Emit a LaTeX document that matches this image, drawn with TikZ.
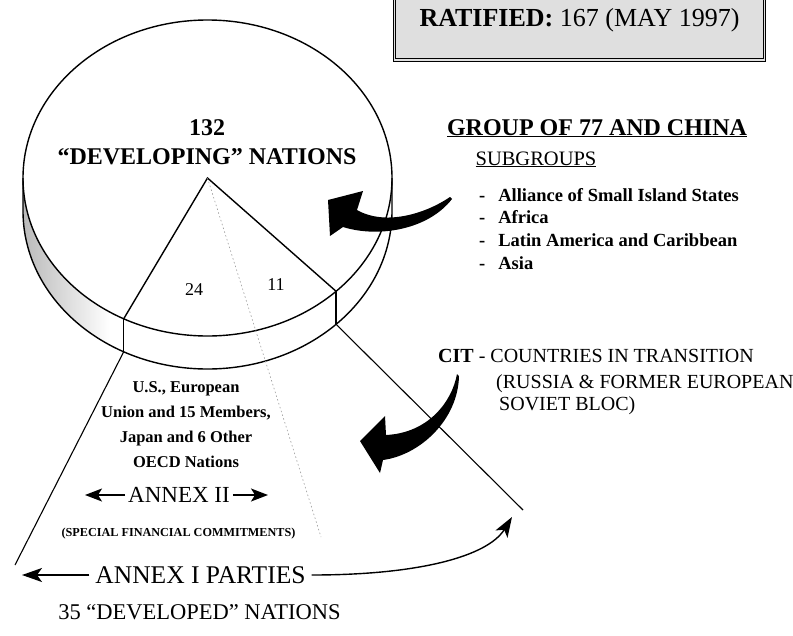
\documentclass[tikz,border=0pt]{standalone}
\usepackage{fontspec}
\setmainfont{Liberation Serif}
\usetikzlibrary{arrows.meta}

\def\gr#1#2{\fontsize{#1}{#2}\selectfont}

\tikzset{
	txt/.style={inner sep=0pt},
	pie/.style={line width=1.4pt},
	cone/.style={line width=1.1pt},
	kurz/.style={line width=1.4pt,-{Stealth[length=17pt,width=13pt,inset=4pt]}},
	lang/.style={line width=1.4pt,-{Stealth[length=20pt,width=14pt,inset=5pt]}},
}

\begin{document}
\begin{tikzpicture}[x=1pt,y=-1pt]
\useasboundingbox (0,0) rectangle (793,635);

% top box
\node[txt, draw=black, line width=1pt, double=gray!25, double distance=1.2pt, fill=gray!25,
	minimum width=370pt, minimum height=80pt] (ratified) at (579.5,20)
	{\gr{26}{26}\textbf{RATIFIED:} 167 (MAY 1997)};

% pie
\coordinate (apex) at (207.5,178);
\coordinate (lrand) at (23,178);
\coordinate (rrand) at (392,178);
\coordinate (lrim) at (123.7,318.8);
\coordinate (rrim) at (336.1,291.3);
\coordinate (lbot) at (123.7,351.8);
\coordinate (rbot) at (336.1,324.3);
\coordinate (lend) at (15,565);
\coordinate (rend) at (523,510);
\coordinate (dotend) at (321,537);
\begin{scope}
	\clip (lrand)
		arc[start angle=180, end angle=270, x radius=184.5pt, y radius=158pt]
		-- ++(0,33)
		arc[start angle=270, end angle=180, x radius=184.5pt, y radius=158pt] -- cycle;
	\shade[left color=gray!55, right color=white] (22,170) rectangle (110,380);
\end{scope}
\draw[pie] (apex) ellipse [x radius=184.5pt, y radius=158pt];
\draw[pie] (lrand) -- ++(0,33)
	arc[start angle=180, end angle=360, x radius=184.5pt, y radius=158pt] -- (rrand);
\draw[pie] (lrim) -- (apex) -- (rrim);
\draw[pie] (lrim) -- (lbot);
\draw[pie] (rrim) -- (rbot);
\draw[cone] (lbot) -- (lend);
\draw[cone] (rbot) -- (rend);
\draw[gray!80, line width=0.6pt, dash pattern=on 1.5pt off 2.5pt] (apex) -- (dotend);

\node[txt, align=center, font={\bfseries\gr{24}{29}}] (developing) at (207,142)
	{132\\``DEVELOPING'' NATIONS};
\node[txt, font=\gr{18}{18}] (n24) at (194,290) {24};
\node[txt, font=\gr{18}{18}] (n11) at (276,285) {11};

% group of 77
\node[txt, anchor=base, font={\bfseries\gr{24}{24}}] (gruppe) at (597,135)
	{\underline{GROUP OF 77 AND CHINA}};
\node[txt, anchor=base, font=\gr{20.5}{20.5}] (sub) at (536,165) {\underline{SUBGROUPS}};
\node[txt, anchor=base west, font={\bfseries\gr{18.5}{22.7}}] (liste) at (479,201)
	{\begin{tabular}[t]{@{}l@{\hspace{13pt}}l@{}}
	-&Alliance of Small Island States\\
	-&Africa\\
	-&Latin America and Caribbean\\
	-&Asia
	\end{tabular}};
\fill (450,197) .. controls (425,214) and (385,226) .. (357,210)
	-- (363,191) -- (328,200) -- (330,236) -- (343,227)
	.. controls (378,238) and (428,230) .. (452,199) -- cycle;

% countries in transition
\node[txt, anchor=base west, font=\gr{20}{22}] (cit) at (438,362)
	{\textbf{CIT} - COUNTRIES IN TRANSITION};
\node[txt, anchor=base west, font=\gr{20}{22}] (russia) at (496,388)
	{(RUSSIA \& FORMER EUROPEAN};
\node[txt, anchor=base west, font=\gr{20}{22}] (soviet) at (499,410) {SOVIET BLOC)};
\fill (457,374) .. controls (452,402) and (428,433) .. (386,435)
	-- (385,416) -- (360,441) -- (380,473) -- (383,460)
	.. controls (420,455) and (458,420) .. (459,376) -- cycle;

% annex parties
\node[txt, align=center, font={\bfseries\gr{16.5}{25}}] (oecd) at (186,425)
	{U.S., European\\Union and 15 Members,\\Japan and 6 Other\\OECD Nations};
\node[txt, inner xsep=3pt, font=\gr{23}{23}] (annexii) at (179,495) {ANNEX II};
\coordinate (a2l) at (85,495);
\coordinate (a2r) at (268,495);
\draw[kurz] (annexii.west) -- (a2l);
\draw[kurz] (annexii.east) -- (a2r);
\node[txt, font={\bfseries\gr{12.2}{12.2}}] (special) at (178.5,534)
	{(SPECIAL FINANCIAL COMMITMENTS)};
\node[txt, inner xsep=6pt, font=\gr{25.5}{25.5}] (annexi) at (200.5,575) {ANNEX I PARTIES};
\coordinate (a1l) at (22,575);
\coordinate (ziel) at (512,517);
\draw[lang] (annexi.west) -- (a1l);
\draw[lang] (annexi.east) .. controls (420,575) and (488,556) .. (ziel);
\node[txt, font=\gr{22.5}{22.5}] (developed) at (199.5,612) {35 ``DEVELOPED'' NATIONS};
\end{tikzpicture}
\end{document}
